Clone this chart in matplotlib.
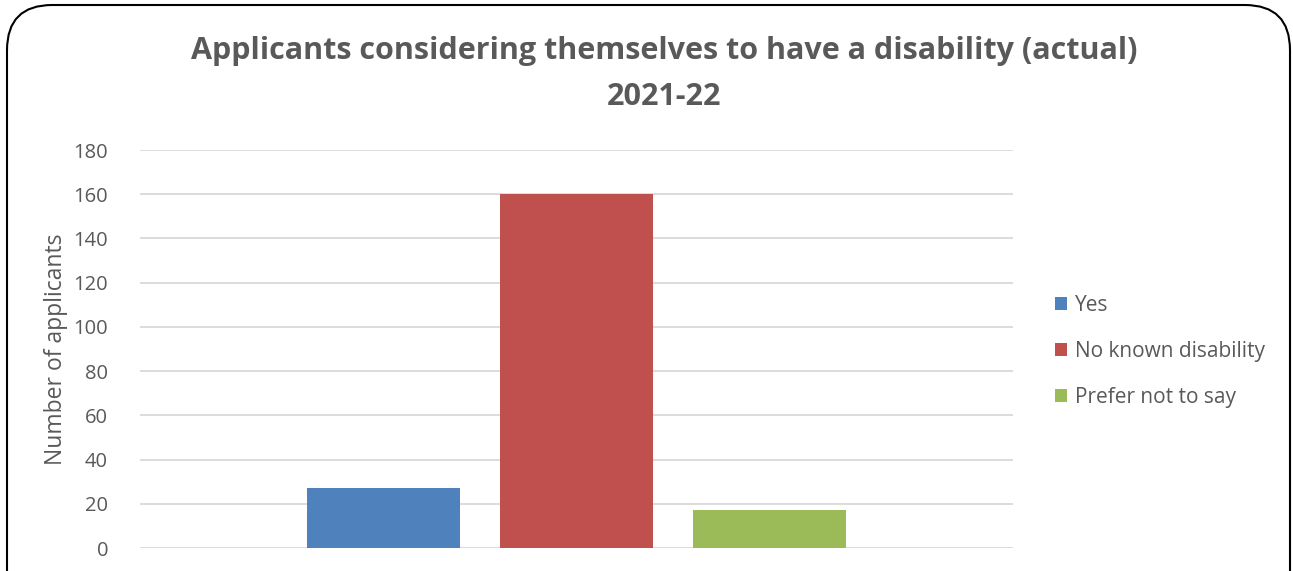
import matplotlib
matplotlib.use("Agg")
import matplotlib.pyplot as plt
from matplotlib.patches import FancyBboxPatch, Patch

series = ["Yes", "No known disability", "Prefer not to say"]
values = [27, 160, 17]
colors = ["#4F81BD", "#C0504D", "#9BBB59"]
yticks = [0, 20, 40, 60, 80, 100, 120, 140, 160, 180]
title = "Applicants considering themselves to have a disability (actual)\n2021-22"
ylabel = "Number of applicants"

plt.rcParams['font.family'] = ['Open Sans', 'DejaVu Sans']
txt = "#595959"

fig = plt.figure(figsize=(12.93, 5.71), dpi=100)
W, H = 1293, 571
ax = fig.add_axes([140 / W, 1 - 548 / H, (1013 - 140) / W, (548 - 150) / H])

width = 0.1753
offsets = [-0.2216, 0.0, 0.2216]
for s, v, c, o in zip(series, values, colors, offsets):
    ax.bar(o, v, width=width, color=c, label=s, zorder=3)

ax.set_xlim(-0.5, 0.5)
ax.set_ylim(0, 180)
ax.set_yticks(yticks)
ax.set_xticks([])
ax.grid(axis='y', color='#D9D9D9', linewidth=1.3, zorder=0)
for sp in ax.spines.values():
    sp.set_visible(False)
ax.tick_params(axis='y', length=0, pad=23, labelsize=14.5, labelcolor=txt)
ax.set_ylabel(ylabel, fontsize=16.5, color=txt, labelpad=4)

fig.text(664 / W, 1 - 74 / H, title, ha='center', va='center', fontsize=22,
         fontweight='bold', color=txt, linespacing=1.72)

handles = [Patch(facecolor=c, edgecolor='none') for c in colors]
leg = fig.legend(handles, series, loc='center left', bbox_to_anchor=(1036 / W, 1 - 351 / H),
                 frameon=False, fontsize=15, handlelength=0.6, handleheight=0.6,
                 handletextpad=0.35, labelspacing=1.2, labelcolor=txt)

border = FancyBboxPatch((7 / W, -0.1), (1290 - 7) / W, (1 - 5 / H) + 0.1,
                        boxstyle="round,pad=0,rounding_size=0.035",
                        transform=fig.transFigure, facecolor='none', edgecolor='black',
                        linewidth=1.5, mutation_aspect=W / H)
fig.patches.append(border)

fig.savefig("out.png", dpi=100)
